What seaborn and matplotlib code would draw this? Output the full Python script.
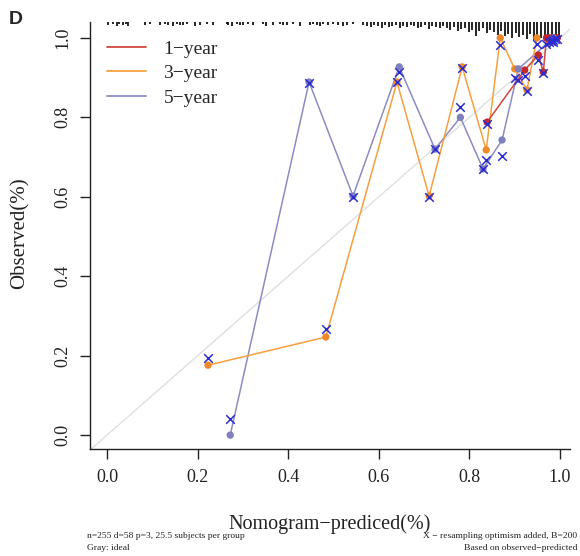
import numpy as np
import pandas as pd
import matplotlib
matplotlib.use('Agg')
import matplotlib.pyplot as plt
import seaborn as sns
from matplotlib.lines import Line2D

# calibration groups (mean predicted, observed KM, bias-corrected KM)
yr1_pred = [0.839, 0.922, 0.952, 0.963, 0.970, 0.976, 0.981, 0.985, 0.989, 0.994]
yr1_obs = [0.788, 0.919, 0.957, 0.914, 1.0, 1.0, 1.0, 1.0, 1.0, 1.0]
yr1_corr = [0.782, 0.905, 0.945, 0.912, 0.985, 0.990, 0.993, 0.995, 0.997, 0.998]

yr3_pred = [0.223, 0.483, 0.640, 0.711, 0.784, 0.837, 0.868, 0.900, 0.927, 0.949]
yr3_obs = [0.176, 0.247, 0.889, 0.602, 0.927, 0.718, 1.0, 0.922, 0.869, 1.0]
yr3_corr = [0.194, 0.267, 0.889, 0.600, 0.925, 0.693, 0.982, 0.900, 0.867, 0.985]

yr5_pred = [0.272, 0.446, 0.543, 0.645, 0.724, 0.780, 0.830, 0.872, 0.908, 0.985]
yr5_obs = [0.0, 0.889, 0.602, 0.927, 0.720, 0.800, 0.670, 0.743, 0.922, 1.0]
yr5_corr = [0.040, 0.887, 0.600, 0.914, 0.720, 0.826, 0.670, 0.703, 0.894, 0.990]

labels = ['1\u2212year', '3\u2212year', '5\u2212year']
line_colors = {'1\u2212year': '#d2463c', '3\u2212year': '#f5a040', '5\u2212year': '#8c8cc4'}
dot_colors = {'1\u2212year': '#c0282d', '3\u2212year': '#ee8a2a', '5\u2212year': '#8080bf'}

# distribution of predicted values (rug at top), heights in pixels
rug_x = [0.003, 0.014, 0.021, 0.027, 0.036, 0.043, 0.047, 0.083, 0.095, 0.117,
         0.128, 0.135, 0.146, 0.154, 0.161, 0.168, 0.176, 0.194, 0.205, 0.220,
         0.235, 0.264, 0.268, 0.275, 0.286, 0.294, 0.301, 0.312, 0.323, 0.345,
         0.352, 0.367, 0.382, 0.389, 0.397, 0.411, 0.426, 0.448, 0.455, 0.463,
         0.470, 0.477, 0.488, 0.499, 0.510, 0.521, 0.529, 0.543,
         0.566, 0.574, 0.582, 0.590, 0.598, 0.606, 0.614, 0.622, 0.630, 0.638,
         0.646, 0.654, 0.662, 0.670, 0.678, 0.686, 0.694, 0.702, 0.710, 0.718,
         0.726, 0.734, 0.742, 0.750, 0.758, 0.766, 0.774, 0.782, 0.790, 0.798,
         0.806, 0.814, 0.822, 0.830, 0.838, 0.846, 0.854, 0.862, 0.870, 0.878,
         0.886, 0.894, 0.902, 0.910, 0.918, 0.926, 0.934, 0.942, 0.950, 0.958,
         0.966, 0.974, 0.982, 0.990, 0.998]
rug_h = [3, 2, 4, 2, 3, 2, 4, 3, 2, 3,
         2, 3, 4, 2, 3, 3, 2, 4, 3, 2,
         3, 2, 3, 4, 2, 3, 3, 2, 3, 2,
         4, 3, 2, 3, 3, 2, 4, 3, 2, 3,
         4, 2, 3, 2, 3, 4, 3, 2,
         3, 4, 5, 3, 4, 6, 3, 5, 4, 3,
         6, 4, 5, 3, 4, 6, 5, 3, 7, 4,
         5, 6, 4, 6, 8, 5, 9, 7, 6, 10,
         8, 14, 9, 6, 11, 8, 10, 13, 9, 14,
         12, 16, 11, 15, 13, 17, 12, 18, 14, 16,
         19, 15, 20, 17, 19]

rows = []
for lab, p, o, c in zip(labels, [yr1_pred, yr3_pred, yr5_pred],
                        [yr1_obs, yr3_obs, yr5_obs], [yr1_corr, yr3_corr, yr5_corr]):
    for i in range(len(p)):
        rows.append({'year': lab, 'pred': p[i], 'obs': o[i], 'corr': c[i]})
df = pd.DataFrame(rows)

sns.set_style('ticks')
plt.rcParams['font.family'] = ['Liberation Serif', 'DejaVu Serif']

fig = plt.figure(figsize=(5.8, 5.56), dpi=100)
ax = fig.add_axes([0.1552, 0.1924, 0.8276, 0.768])

xlim = (-0.0375, 1.022)
ylim = (-0.035, 1.040)
ax.set_xlim(xlim)
ax.set_ylim(ylim)

# ideal line
ax.plot([-0.2, 1.2], [-0.2, 1.2], color='#e0e0e0', lw=1.0, zorder=0)

# rug of predicted probabilities
px = (ylim[1] - ylim[0]) / 427.0
ax.vlines(rug_x, [ylim[1] - h * px for h in rug_h], ylim[1], color='black', lw=1.2, zorder=1)

order = ['5\u2212year', '3\u2212year', '1\u2212year']
sns.lineplot(data=df, x='pred', y='obs', hue='year', hue_order=order,
             palette=line_colors, sort=False, estimator=None, lw=1.1,
             legend=False, ax=ax, zorder=2)
sns.scatterplot(data=df, x='pred', y='obs', hue='year', hue_order=order,
                palette=dot_colors, s=28, edgecolor='none', legend=False,
                ax=ax, zorder=3)
sns.scatterplot(data=df, x='pred', y='corr', marker='x', color='#2b2bd0',
                s=38, linewidth=1.1, legend=False, ax=ax, zorder=4)

ticks = [0.0, 0.2, 0.4, 0.6, 0.8, 1.0]
ax.set_xticks(ticks)
ax.set_yticks(ticks)
ax.set_xticklabels([f'{t:.1f}' for t in ticks])
ax.set_yticklabels([f'{t:.1f}' for t in ticks], rotation=90, va='center')
ax.tick_params(axis='both', length=7.5, width=1.0, direction='out',
               labelsize=13, colors='#222222')
ax.tick_params(axis='x', pad=7)
ax.tick_params(axis='y', pad=6)
for s in ['top', 'right']:
    ax.spines[s].set_visible(False)
for s in ['left', 'bottom']:
    ax.spines[s].set_linewidth(1.0)
    ax.spines[s].set_color('#222222')
ax.set_xlabel('')
ax.set_ylabel('')

handles = [Line2D([0], [0], color=line_colors[l], lw=1.3) for l in labels]
ax.legend(handles, labels, loc='upper left', bbox_to_anchor=(0.0354, 0.958),
          frameon=False, fontsize=14, handlelength=2.0, handletextpad=0.9,
          labelspacing=0.36, borderpad=0, borderaxespad=0)

fig.text(20 / 580, 1 - 233 / 556, 'Observed(%)', rotation=90, fontsize=15,
         ha='center', va='center', color='#222222')
fig.text(330 / 580, 1 - 524 / 556, 'Nomogram\u2212prediced(%)', fontsize=14.5,
         ha='center', va='center', color='#222222')
fig.text(87 / 580, 1 - 536 / 556, 'n=255 d=58 p=3, 25.5 subjects per group',
         fontsize=6.8, ha='left', va='center', color='#222222')
fig.text(87 / 580, 1 - 548 / 556, 'Gray: ideal', fontsize=6.8,
         ha='left', va='center', color='#222222')
fig.text(577 / 580, 1 - 536 / 556, 'X \u2212 resampling optimism added, B=200',
         fontsize=6.8, ha='right', va='center', color='#222222')
fig.text(577 / 580, 1 - 548 / 556, 'Based on observed\u2212predicted', fontsize=6.8,
         ha='right', va='center', color='#222222')
fig.text(16 / 580, 1 - 20 / 556, 'D', fontsize=14, fontweight='bold',
         family=['Liberation Sans', 'DejaVu Sans'], ha='center', va='center')

fig.savefig('out.png', dpi=100)
